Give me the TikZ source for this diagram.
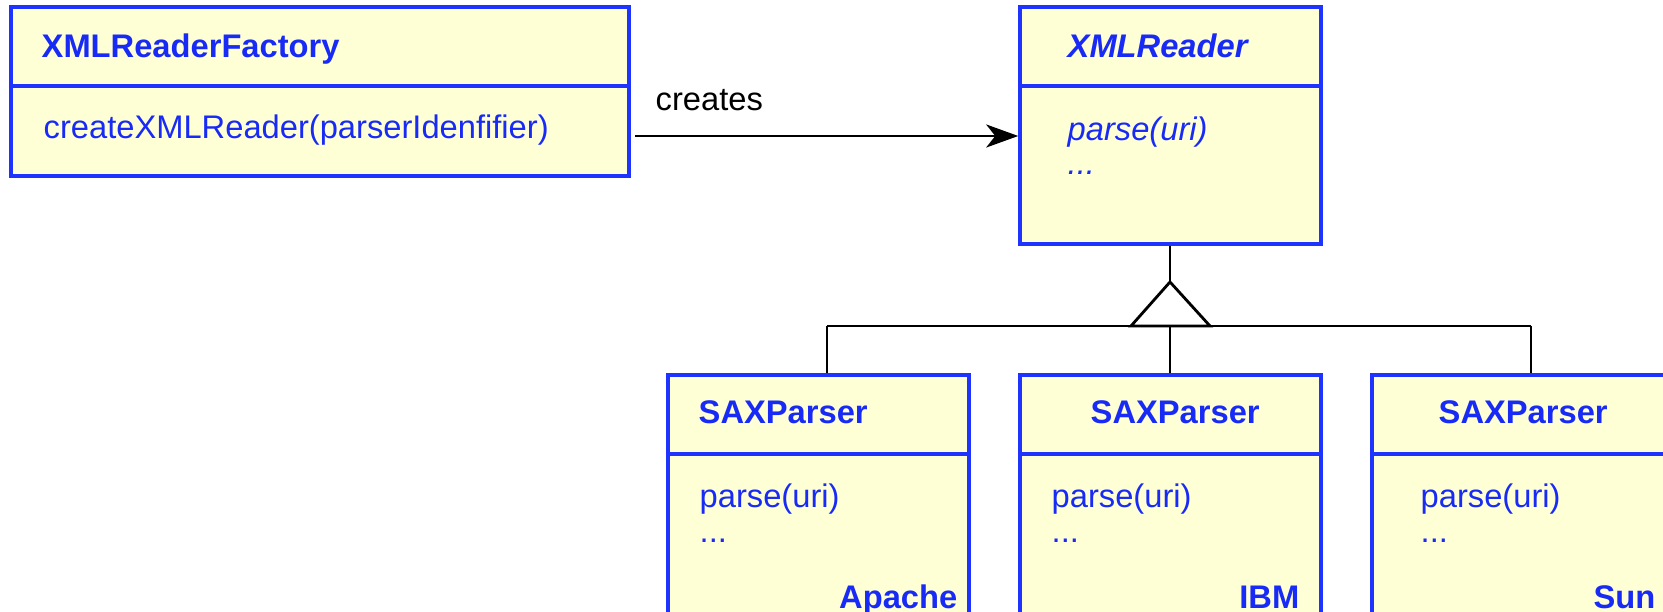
\documentclass[tikz,border=0pt]{standalone}
\usepackage{fontspec}
\setmainfont{Liberation Sans}
\usetikzlibrary{arrows.meta,fit}
\definecolor{umlblue}{RGB}{31,51,255}
\definecolor{umltext}{RGB}{24,42,245}
\definecolor{umlfill}{RGB}{255,255,214}

\begin{document}
\begin{tikzpicture}[x=0.1mm, y=-0.1mm,
		classbox/.style={draw=umlblue, fill=umlfill, line width=1pt, inner sep=0pt},
		classline/.style={draw=umlblue, line width=1pt},
		txt/.style={font=\fontsize{9.3}{11}\selectfont, inner sep=0pt, text=umltext},
		title/.style={txt, font=\fontsize{9.3}{11}\selectfont\bfseries},
		vendor/.style={title, anchor=base east},
		link/.style={line width=0.8pt, black}]
		%%%%% START %%%%%
		
		\useasboundingbox (0, 0) rectangle (1663, 612);
		\clip (0, 0) rectangle (1663, 612);
		
		% factory
		\node[classbox, fit={(11, 7) (629, 176)}] (factory) {};
		\draw[classline] (11, 86) -- (629, 86);
		\node[title, anchor=base west] (factorytitle) at (41, 58) {XMLReaderFactory};
		\node[txt, anchor=base west] (factorymethod) at (43, 139) {createXMLReader(parserIdenfifier)};
		
		% reader interface
		\node[classbox, fit={(1020, 7) (1321, 244)}] (reader) {};
		\draw[classline] (1020, 86) -- (1321, 86);
		\node[title, anchor=base west, font=\fontsize{9.3}{11}\selectfont\bfseries\itshape] (readertitle) at (1067, 58) {XMLReader};
		\node[txt, anchor=base west, font=\fontsize{9.3}{11}\selectfont\itshape] (readermethod) at (1067, 141) {parse(uri)};
		\node[txt, anchor=base west, font=\fontsize{9.3}{11}\selectfont\itshape] (readerdots) at (1067, 175) {...};
		
		% creates
		\coordinate (createsstart) at (635, 136);
		\draw[link, -{Stealth[length=3.2mm, width=2.3mm, inset=0.9mm]}] (createsstart) -- (createsstart -| reader.west);
		\node[txt, text=black, anchor=base west] (createslabel) at (655, 111) {creates};
		
		% parsers
		\node[classbox, fit={(668, 375) (969, 640)}] (apache) {};
		\draw[classline] (668, 454) -- (969, 454);
		\node[title, anchor=base west] (apachetitle) at (698, 424) {SAXParser};
		\node[txt, anchor=base west] (apachemethod) at (699, 508) {parse(uri)};
		\node[txt, anchor=base west] (apachedots) at (699, 543) {...};
		\node[vendor] (apachename) at (958, 609) {Apache};
		
		\node[classbox, fit={(1020, 375) (1321, 640)}] (ibm) {};
		\draw[classline] (1020, 454) -- (1321, 454);
		\node[title, anchor=base west] (ibmtitle) at (1090, 424) {SAXParser};
		\node[txt, anchor=base west] (ibmmethod) at (1051, 508) {parse(uri)};
		\node[txt, anchor=base west] (ibmdots) at (1051, 543) {...};
		\node[vendor] (ibmname) at (1300, 609) {IBM};
		
		\node[classbox, fit={(1372, 375) (1700, 640)}] (sun) {};
		\draw[classline] (1372, 454) -- (1700, 454);
		\node[title, anchor=base west] (suntitle) at (1438, 424) {SAXParser};
		\node[txt, anchor=base west] (sunmethod) at (1420, 508) {parse(uri)};
		\node[txt, anchor=base west] (sundots) at (1420, 543) {...};
		\node[vendor] (sunname) at (1656, 609) {Sun};
		
		% generalization
		\coordinate (tip) at (1170, 282);
		\coordinate (barL) at (827, 326);
		\coordinate (barM) at (1170, 326);
		\coordinate (barR) at (1531, 326);
		\draw[link] (reader.south -| tip) -- (tip);
		\draw[link, line join=miter] (tip) -- (1131, 326) -- (1210, 326) -- cycle;
		\draw[link] (barL) -- (barR);
		\draw[link] (barL) -- (barL |- apache.north);
		\draw[link] (barM) -- (barM |- ibm.north);
		\draw[link] (barR) -- (barR |- sun.north);
		
		%%%%% END %%%%%
	\end{tikzpicture}
\end{document}
